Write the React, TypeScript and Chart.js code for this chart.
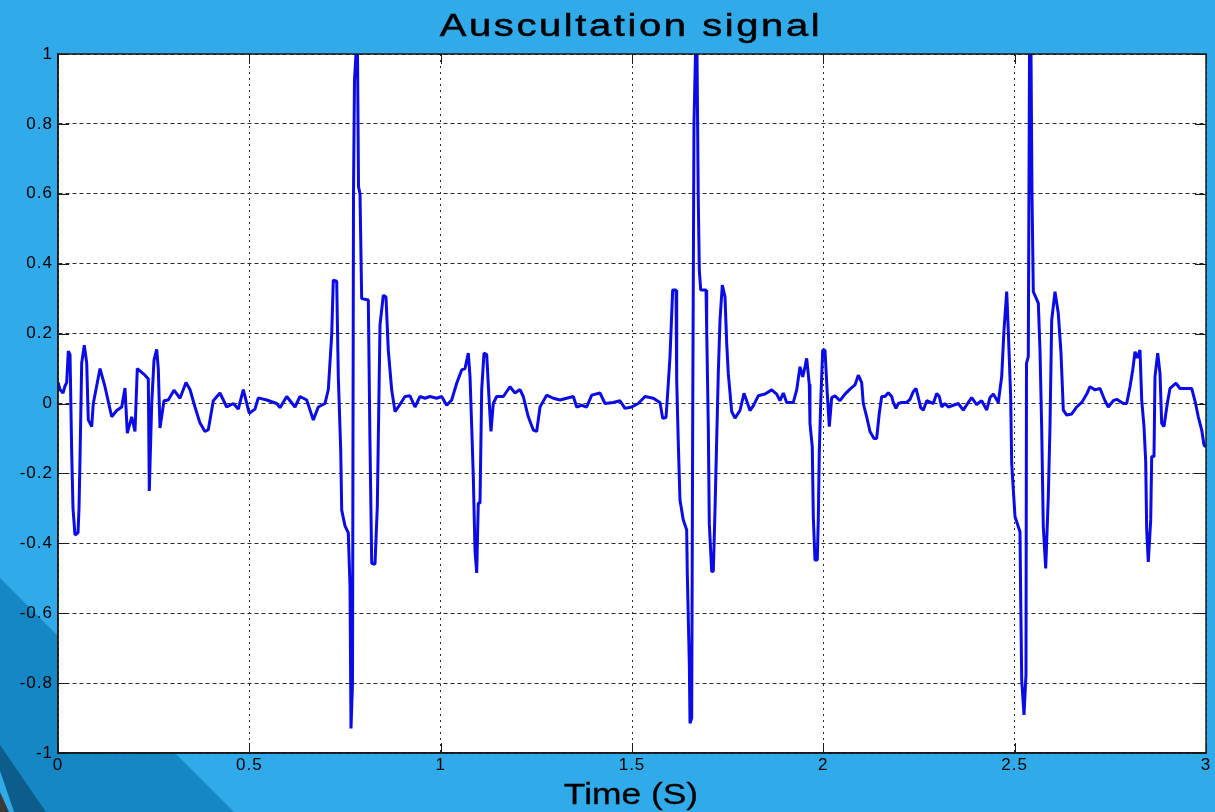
import React, { useEffect, useRef } from "react";
import { Chart, registerables } from "chart.js";

Chart.register(...registerables);

// Recorded heart-sound amplitude, [time in s, normalised amplitude]
const beatWindowA: [number, number][] = [
  [0.0, 0.06], [0.0052, 0.04], [0.0131, 0.03], [0.0183, 0.05], [0.0227, 0.06], [0.0269, 0.15], [0.0314, 0.14],
  [0.0358, -0.14], [0.0392, -0.3], [0.0444, -0.376], [0.0523, -0.37], [0.0549, -0.3], [0.0575, -0.16],
  [0.0619, 0.116], [0.0687, 0.167], [0.075, 0.116], [0.0792, -0.047], [0.0881, -0.066], [0.0922, 0.0],
  [0.1098, 0.1], [0.1228, 0.048], [0.1403, -0.038], [0.1534, -0.02], [0.1665, -0.01], [0.1751, 0.044],
  [0.1811, -0.085], [0.1926, -0.038], [0.2012, -0.08], [0.2072, 0.1], [0.2273, 0.081], [0.236, 0.07],
  [0.2386, -0.25], [0.2449, 0.0], [0.2509, 0.124], [0.2579, 0.155], [0.2621, 0.1], [0.2665, -0.07],
  [0.277, 0.008], [0.2882, 0.01], [0.3031, 0.038], [0.3188, 0.015], [0.3345, 0.06], [0.3449, 0.04],
  [0.358, -0.01], [0.3711, -0.056], [0.3841, -0.08], [0.3928, -0.075], [0.4058, 0.008], [0.4233, 0.03],
  [0.4408, -0.01], [0.4581, 0.0], [0.4712, -0.016], [0.4842, 0.04], [0.4999, -0.028], [0.5148, -0.016],
  [0.5234, 0.016], [0.5454, 0.01], [0.5715, 0.0], [0.5801, -0.012], [0.5977, 0.02], [0.6193, -0.01],
  [0.6324, 0.02], [0.6499, 0.01], [0.6672, -0.047], [0.6802, -0.01], [0.6977, 0.0], [0.7064, 0.04],
  [0.7152, 0.196], [0.7194, 0.353], [0.7283, 0.35], [0.7325, 0.077], [0.7388, -0.133], [0.7414, -0.305],
  [0.75, -0.35], [0.7586, -0.37], [0.7631, -0.524], [0.7657, -0.93], [0.7696, -0.8], [0.7722, 0.6],
  [0.7748, 0.925], [0.7787, 1.0], [0.7827, 1.0], [0.7853, 0.62], [0.7892, 0.6], [0.7936, 0.3],
  [0.8109, 0.296], [0.8153, -0.113], [0.8198, -0.457], [0.8284, -0.46], [0.8344, -0.295], [0.8415, 0.225],
  [0.8501, 0.31], [0.8571, 0.305], [0.8631, 0.153], [0.872, 0.039], [0.8807, -0.023], [0.8893, -0.01],
  [0.9068, 0.02], [0.9199, 0.022], [0.9329, -0.01], [0.946, 0.02], [0.959, 0.015], [0.9721, 0.02],
  [0.9896, 0.015],
];

const beatWindowB: [number, number][] = [
  [1.0027, 0.02], [1.0157, -0.005], [1.0288, 0.01], [1.0419, 0.058], [1.0549, 0.096], [1.0636, 0.1],
  [1.0722, 0.144], [1.0767, 0.077], [1.0811, -0.066], [1.0853, -0.21], [1.0897, -0.42], [1.0942, -0.485],
  [1.0983, -0.285], [1.1028, -0.285], [1.1072, 0.039], [1.1132, 0.144], [1.1203, 0.14], [1.1271, 0.0],
  [1.1315, -0.08], [1.1375, 0.0], [1.1464, 0.02], [1.1637, 0.02], [1.1812, 0.048], [1.1942, 0.03],
  [1.2073, 0.04], [1.2159, 0.02], [1.229, -0.038], [1.2421, -0.076], [1.2509, -0.08], [1.2596, -0.01],
  [1.2771, 0.024], [1.2943, 0.015], [1.3118, 0.01], [1.3293, 0.015], [1.3466, 0.02], [1.3555, -0.01],
  [1.3685, -0.005], [1.3816, -0.01], [1.3947, 0.024], [1.4164, 0.03], [1.4294, 0.0], [1.4511, 0.003],
  [1.4686, 0.008], [1.4817, -0.014], [1.4992, -0.01], [1.5164, 0.0], [1.534, 0.02], [1.5557, 0.015],
  [1.5732, 0.003], [1.5802, -0.042], [1.5889, -0.04], [1.5949, 0.058], [1.5993, 0.134], [1.6063, 0.325],
  [1.615, 0.325], [1.6168, 0.067], [1.621, -0.114], [1.6254, -0.276], [1.634, -0.333], [1.6429, -0.362],
  [1.6445, -0.486], [1.6498, -0.743], [1.6516, -0.915], [1.656, -0.9], [1.6586, -0.056], [1.662, 0.8],
  [1.6659, 1.0], [1.6699, 1.0], [1.673, 0.6], [1.6759, 0.382], [1.6795, 0.325], [1.6934, 0.325],
  [1.6952, 0.21], [1.6994, -0.066], [1.702, -0.343], [1.7083, -0.481], [1.7125, -0.48], [1.7169, -0.305],
  [1.7213, -0.104], [1.7255, 0.086], [1.73, 0.239], [1.736, 0.339], [1.743, 0.305], [1.7475, 0.172],
  [1.7516, 0.086], [1.7605, -0.023], [1.7691, -0.042], [1.7822, -0.02], [1.7927, 0.029], [1.7997, 0.008],
  [1.8083, -0.02], [1.817, -0.007], [1.83, 0.022], [1.8476, 0.027], [1.8651, 0.039], [1.8781, 0.027],
  [1.8867, 0.008], [1.8954, 0.03], [1.9042, 0.003], [1.9215, 0.003], [1.9304, 0.039], [1.939, 0.105],
  [1.9461, 0.076], [1.9521, 0.105], [1.9565, 0.129], [1.9633, 0.055], [1.9651, -0.057], [1.9711, -0.124],
  [1.9738, -0.324], [1.9782, -0.448], [1.9842, -0.448], [1.9868, -0.333], [1.9894, -0.142], [1.9931, 0.0],
  [1.9983, 0.153],
];

const beatWindowC: [number, number][] = [
  [2.0043, 0.153], [2.0104, 0.027], [2.0156, -0.066], [2.0218, 0.017], [2.0305, 0.022], [2.0435, 0.008],
  [2.0566, 0.027], [2.0697, 0.041], [2.0827, 0.053], [2.0914, 0.081], [2.1002, 0.06], [2.1044, 0.0],
  [2.1133, -0.038], [2.1219, -0.08], [2.1324, -0.1], [2.1394, -0.1], [2.1462, -0.028], [2.1525, 0.02],
  [2.1611, 0.02], [2.1698, 0.031], [2.1786, 0.02], [2.1828, 0.003], [2.1898, -0.014], [2.1959, 0.0],
  [2.2047, 0.003], [2.2178, 0.003], [2.2265, 0.012], [2.2351, 0.034], [2.2421, 0.043], [2.2482, 0.017],
  [2.2544, -0.012], [2.2612, -0.019], [2.2701, 0.008], [2.2806, 0.003], [2.2874, 0.0], [2.2962, 0.029],
  [2.303, 0.02], [2.3093, -0.01], [2.3179, 0.0], [2.3266, -0.01], [2.3396, -0.005], [2.3527, 0.0],
  [2.3657, -0.019], [2.3788, 0.003], [2.3877, 0.017], [2.4007, -0.003], [2.4138, 0.008], [2.4269, -0.019],
  [2.4355, 0.017], [2.4442, 0.027], [2.4572, 0.003], [2.4661, 0.077], [2.4721, 0.21], [2.4792, 0.32],
  [2.4833, 0.21], [2.4896, 0.017], [2.4922, -0.171], [2.5009, -0.324], [2.5139, -0.367], [2.5157, -0.553],
  [2.5184, -0.791], [2.5244, -0.891], [2.5296, -0.775], [2.5309, 0.115], [2.5356, 0.134], [2.5388, 1.0],
  [2.5427, 1.0], [2.5453, 0.6], [2.5487, 0.32], [2.5618, 0.287], [2.5662, 0.153], [2.5707, -0.076],
  [2.5748, -0.352], [2.5811, -0.472], [2.5879, -0.267], [2.5923, -0.066], [2.5968, 0.239], [2.6054, 0.32],
  [2.614, 0.258], [2.6211, 0.144], [2.6271, -0.019], [2.636, -0.033], [2.6491, -0.03], [2.6621, -0.01],
  [2.6752, 0.003], [2.6883, 0.027], [2.6969, 0.048], [2.71, 0.039], [2.723, 0.043], [2.7361, 0.008],
  [2.7447, -0.01], [2.7578, 0.008], [2.7667, 0.012], [2.7839, 0.0], [2.7928, 0.0], [2.8014, 0.048],
  [2.8085, 0.096], [2.8145, 0.148], [2.8205, 0.13], [2.8275, 0.153], [2.832, 0.01], [2.838, -0.066],
  [2.8424, -0.166], [2.845, -0.362], [2.8492, -0.453], [2.8555, -0.333], [2.8581, -0.152], [2.8641, -0.152],
  [2.8667, 0.077], [2.8738, 0.144], [2.8798, 0.086], [2.8842, -0.057], [2.8902, -0.066], [2.8989, 0.0],
  [2.9059, 0.043], [2.9216, 0.058], [2.932, 0.043], [2.9496, 0.043], [2.9626, 0.043], [2.9713, 0.007],
  [2.9799, -0.038], [2.9888, -0.076], [2.9948, -0.119], [3.0, -0.124],
];

const timeAxisRange = [0, 3];
const timeTickStep = 0.5;
const amplitudeRange = [-1, 1];
const amplitudeTickStep = 0.2;

const TITLE = "Auscultation signal";
const X_LABEL = "Time (S)";

const W = 1215;
const H = 812;
const SLIDE_BLUE = "#30aae9";
const FONT = "'Liberation Sans', Arial, Helvetica, sans-serif";

type Pt = [number, number];

function fillPoly(ctx: CanvasRenderingContext2D, pts: Pt[], color: string) {
  ctx.beginPath();
  ctx.moveTo(pts[0][0], pts[0][1]);
  for (let i = 1; i < pts.length; i++) ctx.lineTo(pts[i][0], pts[i][1]);
  ctx.closePath();
  ctx.fillStyle = color;
  ctx.fill();
}

// Slide backdrop, white axes box, inside tick marks and frame
const slideFrame = {
  id: "slideFrame",
  beforeDraw(chart: any) {
    const { ctx, chartArea: a } = chart;
    ctx.save();
    ctx.fillStyle = SLIDE_BLUE;
    ctx.fillRect(0, 0, W, H);
    fillPoly(ctx, [[0, 578], [234, 812], [0, 812]], "#1487c4");
    fillPoly(ctx, [[0, 745], [46, 812], [14, 812], [0, 771]], "#0d5d8c");
    fillPoly(ctx, [[0, 771], [14, 812], [0, 812]], SLIDE_BLUE);
    fillPoly(ctx, [[0, 792], [9, 812], [0, 812]], "#3b3b3b");
    ctx.fillStyle = "#ffffff";
    ctx.fillRect(a.left, a.top, a.right - a.left, a.bottom - a.top);
    ctx.restore();
    ctx.letterSpacing = "1px";
  },
  beforeDatasetsDraw(chart: any) {
    chart.ctx.letterSpacing = "0px";
  },
  afterDraw(chart: any) {
    const { ctx, chartArea: a, scales } = chart;
    const xs = scales.x;
    const ys = scales.y;
    ctx.save();
    ctx.strokeStyle = "#1a1a1a";
    ctx.lineWidth = 1;
    ctx.beginPath();
    xs.ticks.forEach((t: any) => {
      const px = Math.round(xs.getPixelForValue(t.value)) + 0.5;
      ctx.moveTo(px, a.bottom);
      ctx.lineTo(px, a.bottom - 10);
      ctx.moveTo(px, a.top);
      ctx.lineTo(px, a.top + 10);
    });
    ys.ticks.forEach((t: any) => {
      const py = Math.round(ys.getPixelForValue(t.value)) + 0.5;
      ctx.moveTo(a.left, py);
      ctx.lineTo(a.left + 11, py);
      ctx.moveTo(a.right, py);
      ctx.lineTo(a.right - 11, py);
    });
    ctx.stroke();
    ctx.lineWidth = 1.5;
    ctx.strokeRect(a.left, a.top, a.right - a.left, a.bottom - a.top);
    ctx.restore();
  },
};

const fmt = (v: number) => (Math.abs(v) < 1e-9 ? "0" : String(+v.toFixed(1)));

export default function App() {
  const canvasRef = useRef<HTMLCanvasElement>(null);

  useEffect(() => {
    const points = [...beatWindowA, ...beatWindowB, ...beatWindowC].map(([t, v]) => ({ x: t, y: v }));
    const chart = new Chart(canvasRef.current as HTMLCanvasElement, {
      type: "line",
      data: {
        datasets: [
          {
            data: points,
            borderColor: "#0b0be6",
            borderWidth: 3,
            pointRadius: 0,
            tension: 0,
            fill: false,
            borderJoinStyle: "bevel",
          },
        ],
      },
      options: {
        responsive: false,
        animation: false,
        devicePixelRatio: 1,
        layout: { padding: { top: 54, right: 9, left: 0, bottom: 0 } },
        plugins: { legend: { display: false }, title: { display: false }, tooltip: { enabled: false } },
        scales: {
          x: {
            type: "linear",
            min: timeAxisRange[0],
            max: timeAxisRange[1],
            afterFit: (s: any) => {
              s.height = 59;
            },
            ticks: {
              stepSize: timeTickStep,
              padding: 2,
              color: "#000",
              font: { family: FONT, size: 17 },
              maxRotation: 0,
              callback: (v: any) => fmt(Number(v)),
            },
            grid: { color: "#2a2a2a", lineWidth: 1, drawTicks: false },
            border: { display: true, color: "#1a1a1a", width: 1.5, dash: [2, 4] },
          },
          y: {
            min: amplitudeRange[0],
            max: amplitudeRange[1],
            afterFit: (s: any) => {
              s.width = 58;
            },
            ticks: {
              stepSize: amplitudeTickStep,
              padding: 5,
              color: "#000",
              font: { family: FONT, size: 17 },
              callback: (v: any) => fmt(Number(v)),
            },
            grid: { color: "#2a2a2a", lineWidth: 1, drawTicks: false },
            border: { display: true, color: "#1a1a1a", width: 1.5, dash: [4, 3] },
          },
        },
      },
      plugins: [slideFrame],
    });
    return () => chart.destroy();
  }, []);

  return (
    <div style={{ position: "fixed", left: 0, top: 0, width: W, height: H, overflow: "hidden", background: SLIDE_BLUE }}>
      <canvas ref={canvasRef} width={W} height={H} style={{ display: "block" }} />
      <div
        style={{
          position: "absolute",
          left: 631,
          top: 10,
          fontFamily: FONT,
          fontSize: 31,
          lineHeight: "31px",
          letterSpacing: "2px",
          whiteSpace: "nowrap",
          color: "#000",
          WebkitTextStroke: "0.5px #000",
          transform: "translateX(-50%) scaleX(1.29)",
        }}
      >
        {TITLE}
      </div>
      <div
        style={{
          position: "absolute",
          left: 631,
          top: 780,
          fontFamily: FONT,
          fontSize: 29,
          lineHeight: "29px",
          whiteSpace: "nowrap",
          color: "#000",
          WebkitTextStroke: "0.3px #000",
          transform: "translateX(-50%) scaleX(1.22)",
        }}
      >
        {X_LABEL}
      </div>
    </div>
  );
}
